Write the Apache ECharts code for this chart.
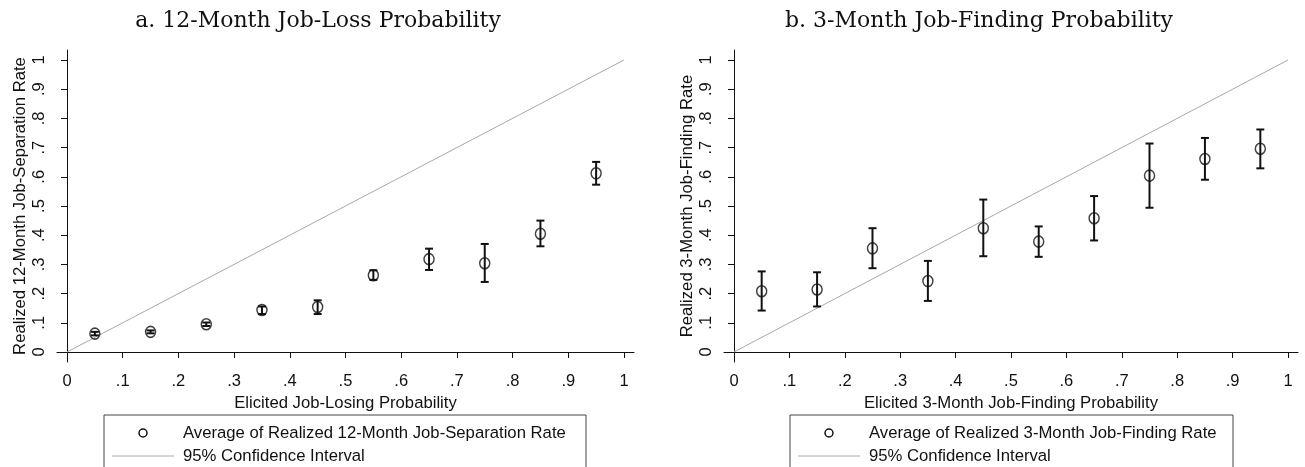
<!DOCTYPE html>
<html><head><meta charset="utf-8">
<script src="https://cdn.jsdelivr.net/npm/echarts@6/dist/echarts.min.js"></script>
<style>html,body{margin:0;padding:0;background:#fff}#c{width:1305px;height:467px}</style>
</head><body><div id="c"></div>
<script>
// ---- data ----
const bins = [0.05, 0.15, 0.25, 0.35, 0.45, 0.55, 0.65, 0.75, 0.85, 0.95];
const lossMean = [0.063, 0.069, 0.095, 0.144, 0.154, 0.263, 0.318, 0.304, 0.405, 0.612];
const lossLow  = [0.057, 0.064, 0.089, 0.130, 0.130, 0.247, 0.281, 0.240, 0.362, 0.573];
const lossHigh = [0.069, 0.074, 0.101, 0.156, 0.177, 0.280, 0.354, 0.370, 0.450, 0.651];
const findMean = [0.208, 0.214, 0.355, 0.243, 0.424, 0.378, 0.458, 0.604, 0.661, 0.696];
const findLow  = [0.142, 0.156, 0.287, 0.175, 0.328, 0.326, 0.382, 0.494, 0.590, 0.629];
const findHigh = [0.276, 0.273, 0.424, 0.312, 0.522, 0.430, 0.534, 0.714, 0.733, 0.762];
const diagLine = [[0, 0], [1, 1]];
const tickValues = [0, 0.1, 0.2, 0.3, 0.4, 0.5, 0.6, 0.7, 0.8, 0.9, 1];
const tickLabels = ['0', '.1', '.2', '.3', '.4', '.5', '.6', '.7', '.8', '.9', '1'];
const titles = ['a. 12-Month Job-Loss Probability', 'b. 3-Month Job-Finding Probability'];
const xNames = ['Elicited Job-Losing Probability', 'Elicited 3-Month Job-Finding Probability'];
const yNames = ['Realized 12-Month Job-Separation Rate', 'Realized 3-Month Job-Finding Rate'];
const meanNames = ['Average of Realized 12-Month Job-Separation Rate', 'Average of Realized 3-Month Job-Finding Rate'];
const lineName = '95% Confidence Interval';

// ---- chart ----
const SANS = '"Liberation Sans", Arial, sans-serif';
const INK = '#111';
function fmt(v) {
  const i = tickValues.findIndex(t => Math.abs(t - v) < 1e-6);
  return i >= 0 ? tickLabels[i] : '';
}
function xAxis(gi) {
  return {
    type: 'value', gridIndex: gi, min: -0.018, max: 1.018,
    name: xNames[gi], nameLocation: 'middle', nameGap: 28,
    nameTextStyle: { fontFamily: SANS, fontSize: 16.7, color: INK },
    axisLine: { show: true, lineStyle: { color: INK, width: 1 } },
    axisTick: { show: true, length: 6, customValues: tickValues, lineStyle: { color: INK } },
    axisLabel: { customValues: tickValues, formatter: fmt, margin: 11, fontFamily: SANS, fontSize: 16.5, color: INK },
    splitLine: { show: false }
  };
}
function yAxis(gi) {
  return {
    type: 'value', gridIndex: gi, min: -0.0342, max: 1.0342,
    name: yNames[gi], nameLocation: 'middle', nameGap: 28, nameRotate: 90,
    nameTextStyle: { fontFamily: SANS, fontSize: 16.7, color: INK },
    axisLine: { show: true, lineStyle: { color: INK, width: 1 } },
    axisTick: { show: true, length: 6, customValues: tickValues, lineStyle: { color: INK } },
    axisLabel: { customValues: tickValues, formatter: fmt, rotate: 90, margin: 9, fontFamily: SANS, fontSize: 16.5, color: INK },
    splitLine: { show: false }
  };
}
function errRender(params, api) {
  const x = api.value(0), lo = api.value(1), hi = api.value(2);
  const a = api.coord([x, lo]), b = api.coord([x, hi]);
  const w = 4;
  const st = { stroke: INK, lineWidth: 2, fill: null };
  return { type: 'group', children: [
    { type: 'line', shape: { x1: a[0], y1: a[1], x2: b[0], y2: b[1] }, style: st },
    { type: 'line', shape: { x1: a[0] - w, y1: a[1], x2: a[0] + w, y2: a[1] }, style: st },
    { type: 'line', shape: { x1: b[0] - w, y1: b[1], x2: b[0] + w, y2: b[1] }, style: st }
  ]};
}
function panelSeries(gi, mean, low, high) {
  return [
    { name: lineName, type: 'line', xAxisIndex: gi, yAxisIndex: gi, data: diagLine, symbol: 'none',
      lineStyle: { color: '#a8a8a8', width: 1 }, z: 1, silent: true },
    { type: 'custom', xAxisIndex: gi, yAxisIndex: gi, renderItem: errRender,
      data: bins.map((b, i) => [b, low[i], high[i]]), encode: { x: 0, y: [1, 2] }, z: 2, silent: true },
    { name: meanNames[gi], type: 'scatter', xAxisIndex: gi, yAxisIndex: gi,
      data: bins.map((b, i) => [b, mean[i]]), symbol: 'circle', symbolSize: [10, 11],
      itemStyle: { color: 'rgba(0,0,0,0)', borderColor: INK, borderWidth: 1.5 }, z: 3, silent: true }
  ];
}
function legendGraphic(boxLeft, boxRight, gi) {
  const top = 415;
  return [
    { type: 'rect', shape: { x: boxLeft, y: top, width: boxRight - boxLeft, height: 80 },
      style: { fill: null, stroke: '#444', lineWidth: 1 }, silent: true },
    { type: 'circle', shape: { cx: boxLeft + 39, cy: 433, r: 4 },
      style: { fill: null, stroke: INK, lineWidth: 1.5 }, silent: true },
    { type: 'text', x: boxLeft + 79, y: 433, style: { text: meanNames[gi], font: '16.7px ' + SANS, fill: INK, verticalAlign: 'middle' } },
    { type: 'line', shape: { x1: boxLeft + 8, y1: 456, x2: boxLeft + 70, y2: 456 },
      style: { stroke: '#a8a8a8', lineWidth: 1 }, silent: true },
    { type: 'text', x: boxLeft + 79, y: 456, style: { text: lineName, font: '16.7px ' + SANS, fill: INK, verticalAlign: 'middle' } }
  ];
}
const chart = echarts.init(document.getElementById('c'), null, { renderer: 'canvas' });
chart.setOption({
  animation: false,
  backgroundColor: '#fff',
  title: [
    { text: titles[0], left: 313, top: 5, textAlign: 'center',
      textStyle: { fontFamily: '"DejaVu Serif", serif', fontWeight: 'normal', fontSize: 22, color: '#111' } },
    { text: titles[1], left: 974, top: 5, textAlign: 'center',
      textStyle: { fontFamily: '"DejaVu Serif", serif', fontWeight: 'normal', fontSize: 22, color: '#111' } }
  ],
  grid: [
    { left: 57, width: 577, top: 50, height: 312 },
    { left: 724, width: 574, top: 50, height: 312 }
  ],
  xAxis: [xAxis(0), xAxis(1)],
  yAxis: [yAxis(0), yAxis(1)],
  series: [].concat(panelSeries(0, lossMean, lossLow, lossHigh), panelSeries(1, findMean, findLow, findHigh)),
  graphic: [].concat(legendGraphic(104, 586, 0), legendGraphic(790, 1233, 1))
});
</script></body></html>
